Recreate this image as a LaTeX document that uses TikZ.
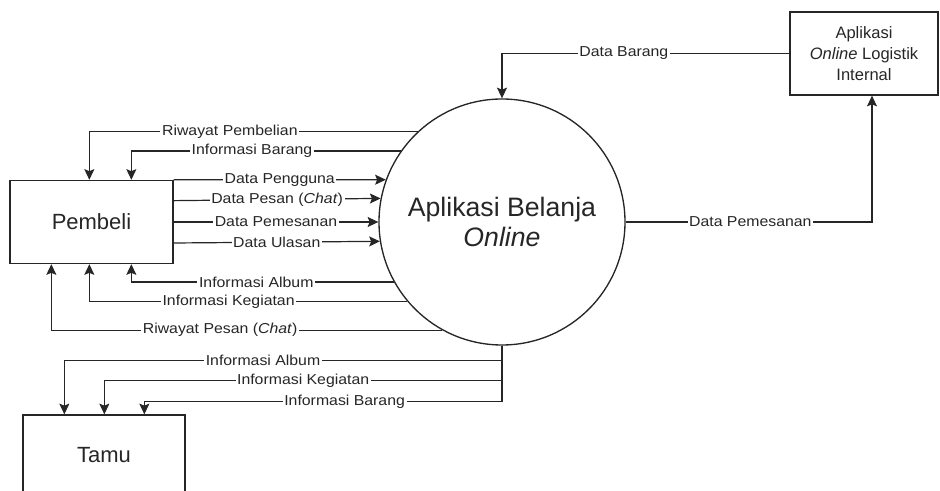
\documentclass[tikz,border=0pt]{standalone}
\usepackage{fontspec}
\setmainfont{Liberation Sans}
\newfontfamily\lblfont[FakeStretch=1.1]{Liberation Sans}
\usepackage{tikz}
\usetikzlibrary{positioning, arrows.meta}

\begin{document}
\begin{tikzpicture}[x=0.75pt, y=-0.75pt]
	\tikzset{
		entity/.style={rectangle, draw=black!85, line width=1pt, text=black!85, font=\fontsize{16.5}{19}\selectfont},
		process/.style={circle, draw=black!85, line width=1pt, minimum size=184.5pt, inner sep=0pt, text=black!85, align=center, font=\fontsize{20}{23}\selectfont},
		flow/.style={draw=black!85, line width=0.9pt, -{Stealth[length=8pt, width=7.5pt, inset=1.5pt]}},
		lbl/.style={fill=white, inner sep=1.2pt, text=black!85, font=\lblfont\fontsize{10.8}{12}\selectfont}
	}
	\useasboundingbox (0,0) rectangle (940,491);
	\clip (0,0) rectangle (940,491);

	\node[process] (app) at (502,222) {Aplikasi Belanja\\\textit{Online}};
	\node[entity, minimum width=122.25pt, minimum height=62.25pt] (pembeli) at (91.5,222) {Pembeli};
	\node[entity, minimum width=121.5pt, minimum height=60pt] (tamu) at (104,455) {Tamu};
	\node[entity, minimum width=111pt, minimum height=62.25pt, align=center, font=\fontsize{12.4}{15.75}\selectfont] (logistik) at (864,53.5) {Aplikasi\\\textit{Online} Logistik\\Internal};

	% ke pembeli (atas)
	\draw[flow] (app.133.65) -| node[lbl, pos=.286] {Riwayat Pembelian} ([xshift=60pt]pembeli.north west);
	\draw[flow] (app.145.9) -| node[lbl, pos=.276] {Informasi Barang} ([xshift=91.5pt]pembeli.north west);

	% dari pembeli
	\draw[flow] (pembeli.north east) -- node[lbl] {Data Pengguna} (app.160);
	\draw[flow] ([yshift=16pt]pembeli.east) -- node[lbl] {Data Pesan (\textit{Chat})} (app.169.7);
	\draw[flow] (pembeli.east) -- node[lbl] {Data Pemesanan} (app.west);
	\draw[flow] ([yshift=-15.75pt]pembeli.east) -- node[lbl] {Data Ulasan} (app.189.8);

	% ke pembeli (bawah)
	\draw[flow] (app.209.2) -| node[lbl, pos=.262] {Informasi Album} ([xshift=91.5pt]pembeli.south west);
	\draw[flow] (app.220.6) -| node[lbl, pos=.281] {Informasi Kegiatan} ([xshift=60pt]pembeli.south west);
	\draw[flow] (app.241.4) -| node[lbl, pos=.284] {Riwayat Pesan (\textit{Chat})} ([xshift=31.5pt]pembeli.south west);

	% ke tamu
	\draw[flow] (app.south) -- ++(0,15) -| node[lbl, pos=.273] {Informasi Album} ([xshift=31.5pt]tamu.north west);
	\draw[flow] (app.south) -- ++(0,35) -| node[lbl, pos=.25] {Informasi Kegiatan} ([xshift=61.5pt]tamu.north west);
	\draw[flow] (app.south) -- ++(0,56) -| node[lbl, pos=.22] {Informasi Barang} ([xshift=91.5pt]tamu.north west);

	% logistik
	\draw[flow] (logistik.west) -| node[lbl, pos=.288] {Data Barang} (app.north);
	\draw[flow] (app.east) -| node[lbl, pos=.253] {Data Pemesanan} ([xshift=6pt]logistik.south);
\end{tikzpicture}
\end{document}
